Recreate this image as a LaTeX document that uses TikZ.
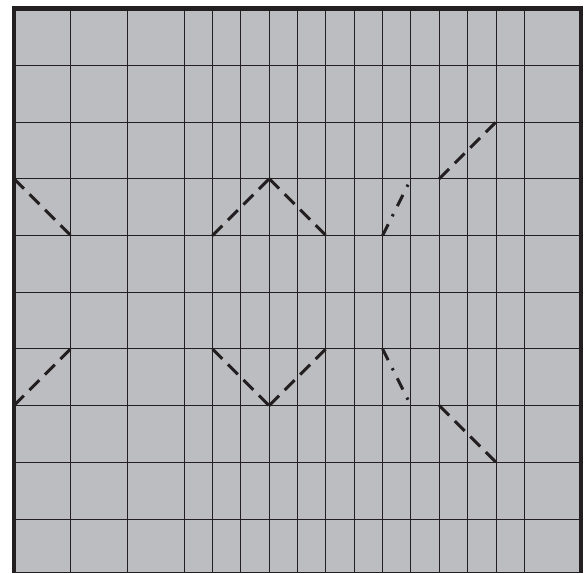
\documentclass[tikz,border=0pt]{standalone}
\usetikzlibrary{calc}
\definecolor{cpanel}{HTML}{BCBDC0}
\definecolor{cink}{HTML}{231F20}
\tikzset{
  panel/.style={fill=cpanel, draw=none},
  gridline/.style={draw=cink, line width=0.5pt},
  frame/.style={draw=cink, line width=2.3pt},
  trace/.style={draw=cink, line width=1.5pt, dash pattern=on 7pt off 4pt},
  dtrace/.style={draw=cink, line width=1.5pt, dash pattern=on 6.3pt off 4.5pt on 1.2pt off 4.5pt},
}

\begin{document}
\begin{tikzpicture}
  \useasboundingbox (-0.247,0.035) rectangle (10.052,10.153);
  \def\yb{0.05}

  % panel and grid
  \fill[panel] (0,\yb) rectangle (10,10);
  \foreach \x in {1,2,3,3.5,4,4.5,5,5.5,6,6.5,7,7.5,8,8.5,9}
    \draw[gridline] (\x,\yb) -- (\x,10);
  \foreach \y in {1,...,9}
    \draw[gridline] (0,\y) -- (10,\y);
  \draw[gridline] (0,\yb) -- (10,\yb);
  \draw[frame] (0,\yb) -- (0,10) -- (10,10) -- (10,\yb);

  % upper traces
  \coordinate (ua) at (0,7);   \coordinate (ub) at (1,6);
  \coordinate (uc) at (3.5,6); \coordinate (ud) at (4.5,7); \coordinate (ue) at (5.5,6);
  \coordinate (uf) at (6.5,6); \coordinate (ug) at (7,7);
  \coordinate (uh) at (7.5,7); \coordinate (ui) at (8.5,8);
  \draw[trace] (ua) -- (ub);
  \draw[trace] (uc) -- (ud);
  \draw[trace] (ud) -- (ue);
  \draw[dtrace] (uf) -- (ug);
  \draw[trace] (uh) -- (ui);

  % lower traces
  \coordinate (la) at (0,3);   \coordinate (lb) at (1,4);
  \coordinate (lc) at (3.5,4); \coordinate (ld) at (4.5,3); \coordinate (le) at (5.5,4);
  \coordinate (lf) at (6.5,4); \coordinate (lg) at (7,3);
  \coordinate (lh) at (7.5,3); \coordinate (li) at (8.5,2);
  \draw[trace] (la) -- (lb);
  \draw[trace] (lc) -- (ld);
  \draw[trace] (ld) -- (le);
  \draw[dtrace] (lf) -- (lg);
  \draw[trace] (lh) -- (li);
\end{tikzpicture}
\end{document}
